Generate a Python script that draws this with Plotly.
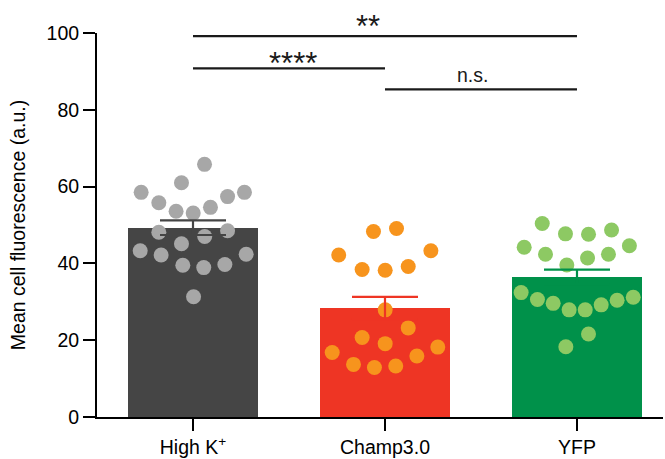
import plotly.graph_objects as go

# ---------------- data ----------------
categories = ["High K<sup>+</sup>", "Champ3.0", "YFP"]
means = [49.3, 28.4, 36.5]
sems = [1.9, 2.9, 1.9]

highk_values = [65.8, 61.0, 58.5, 58.5, 57.4, 55.8, 54.6, 53.6, 53.1, 48.1,
                48.5, 47.0, 45.1, 43.3, 42.2, 42.4, 39.5, 38.9, 39.7, 31.3]
highk_jitter = [0.060, -0.060, -0.270, 0.268, 0.180, -0.178, 0.091, -0.088, 0.001, -0.178,
                0.180, 0.061, -0.060, -0.275, -0.166, 0.277, -0.053, 0.056, 0.166, 0.003]

champ_values = [48.3, 49.1, 42.2, 43.3, 38.4, 38.2, 39.2, 27.9, 23.2, 20.7,
                19.1, 16.8, 18.2, 13.7, 12.9, 13.3, 15.9]
champ_jitter = [-0.060, 0.060, -0.241, 0.239, -0.119, 0.001, 0.121, 0.001, 0.121, -0.119,
                0.001, -0.275, 0.275, -0.164, -0.055, 0.056, 0.166]

yfp_values = [50.4, 47.7, 47.6, 48.7, 44.2, 44.6, 42.4, 41.4, 42.4, 39.6,
              32.4, 30.6, 29.6, 27.9, 27.9, 29.2, 30.4, 31.2, 21.6, 18.3]
yfp_jitter = [-0.181, -0.060, 0.060, 0.180, -0.275, 0.273, -0.164, 0.055, 0.164, -0.053,
              -0.291, -0.206, -0.124, -0.041, 0.043, 0.126, 0.209, 0.293, 0.060, -0.058]

bar_colors = ["#454545", "#EE3524", "#00914A"]
dot_colors = ["#A7A7A7", "#F7941D", "#8DC963"]

# significance brackets
sig_starts = [0, 0, 1]
sig_ends = [2, 1, 2]
sig_levels = [99.2, 90.8, 85.3]
sig_labels = ["**", "****", "n.s."]
sig_label_x = [0.909, 0.52, 1.458]
sig_label_y = [96.7, 87.0, 85.8]

FONT = "Liberation Sans, Arial, sans-serif"

fig = go.Figure()

xs = list(range(len(categories)))

# bars
fig.add_trace(go.Bar(
    x=xs, y=means, width=0.68,
    marker=dict(color=bar_colors, line=dict(width=0)),
    hoverinfo="skip",
))

# dots
for i, (vals, jit) in enumerate([(highk_values, highk_jitter),
                                 (champ_values, champ_jitter),
                                 (yfp_values, yfp_jitter)]):
    fig.add_trace(go.Scatter(
        x=[i + j for j in jit], y=vals, mode="markers",
        marker=dict(size=15, color=dot_colors[i], line=dict(width=0)),
        hoverinfo="skip",
    ))

# error bars (on top of dots)
for i in xs:
    fig.add_trace(go.Scatter(
        x=[i], y=[means[i]], mode="markers",
        marker=dict(size=0.1, color=bar_colors[i], opacity=0),
        error_y=dict(type="data", array=[sems[i]], visible=True,
                     color=bar_colors[i], thickness=2.2, width=33),
        hoverinfo="skip",
    ))

# significance lines and labels
for s, e, lv, lab, lx, ly in zip(sig_starts, sig_ends, sig_levels, sig_labels, sig_label_x, sig_label_y):
    fig.add_shape(type="line", xref="x", yref="y", x0=s, x1=e, y0=lv, y1=lv,
                  line=dict(color="#1a1a1a", width=2.2))
    is_star = "*" in lab
    fig.add_annotation(x=lx, y=ly, xref="x", yref="y", text=lab, showarrow=False,
                       yanchor="bottom", xanchor="center",
                       font=dict(family=FONT, size=31 if is_star else 19.5, color="#1a1a1a"))

axis_common = dict(
    showline=True, linecolor="black", linewidth=2,
    ticks="outside", ticklen=12, tickwidth=2, tickcolor="black",
    tickfont=dict(family=FONT, size=19.5, color="black"),
    showgrid=False, zeroline=False,
)

fig.update_layout(
    width=665, height=459,
    margin=dict(l=97, r=2, t=33, b=42),
    paper_bgcolor="white", plot_bgcolor="white",
    showlegend=False,
    bargap=0,
    xaxis=dict(range=[-0.5, 2.448], tickvals=xs, ticktext=categories, **axis_common),
    yaxis=dict(range=[0, 100], tickvals=[0, 20, 40, 60, 80, 100],
               title=dict(text="Mean cell fluorescence (a.u.)",
                          font=dict(family=FONT, size=19.5, color="black"), standoff=16),
               **axis_common),
)

fig.write_html("out.html")
